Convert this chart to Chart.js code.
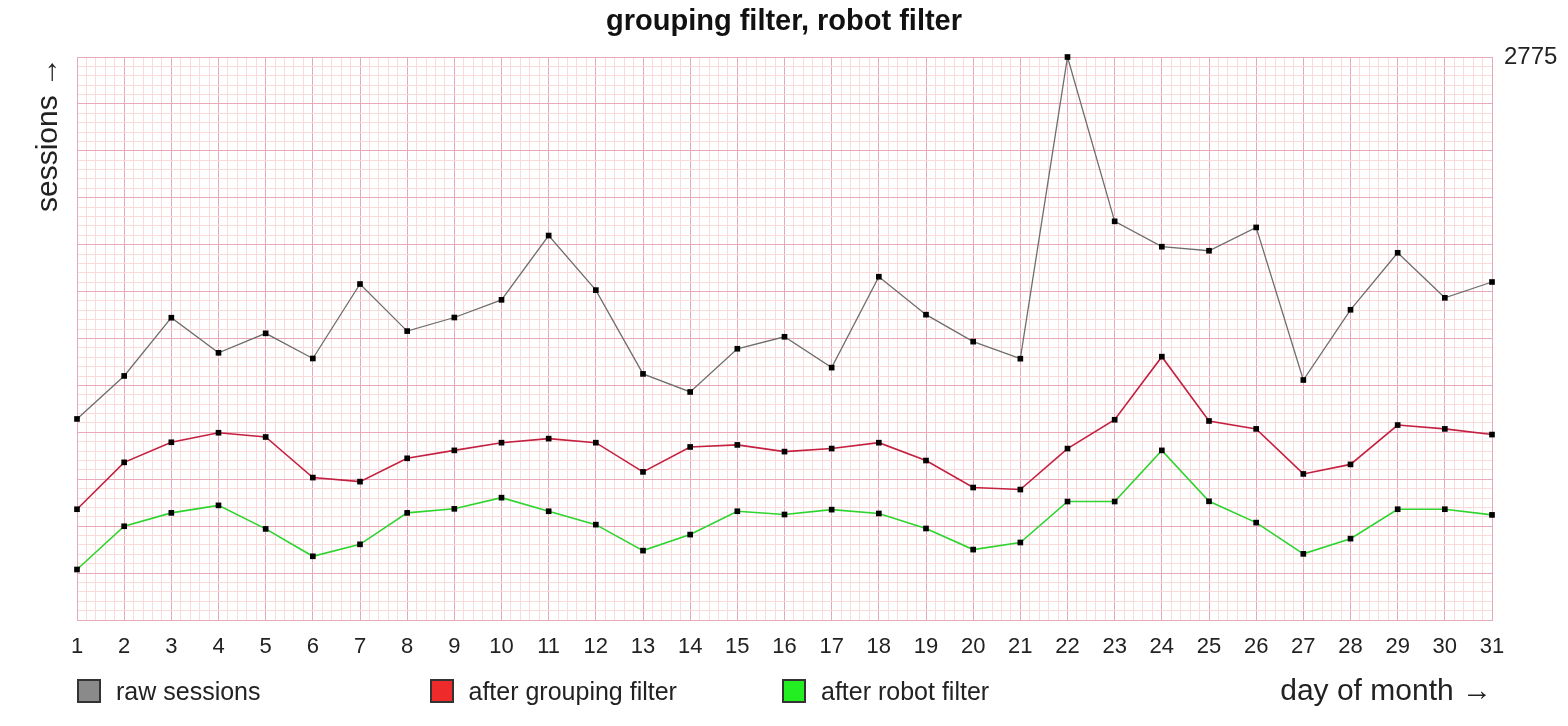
<!DOCTYPE html>
<html>
<head>
<meta charset="utf-8">
<script src="https://cdn.jsdelivr.net/npm/chart.js@4.4.1/dist/chart.umd.min.js"></script>
<style>
  body { margin: 0; background: #fff; font-family: "Liberation Sans", Arial, sans-serif; }
  #wrap { position: relative; width: 1568px; height: 726px; }
  #chartBox { position: absolute; left: 0; top: 0; width: 1568px; height: 726px; }
  #legend { position: absolute; left: 77px; top: 679px; height: 24px; }
  .item { position: absolute; top: 0; height: 24px; display: flex; align-items: center; white-space: nowrap; }
  .box { width: 20px; height: 20px; border: 2px solid #333; }
  .item span { margin-left: 15px; font-size: 25px; color: #222; line-height: 24px; }
</style>
</head>
<body>
<div id="wrap">
  <div id="chartBox"><canvas id="sessionsChart"></canvas></div>
  <div id="legend"></div>
</div>
<script>
  const days = [1, 2, 3, 4, 5, 6, 7, 8, 9, 10, 11, 12, 13, 14, 15, 16,
    17, 18, 19, 20, 21, 22, 23, 24, 25, 26, 27, 28, 29, 30, 31];

  const rawSessions = [991, 1203, 1490, 1317, 1413, 1289, 1656, 1424, 1491, 1578, 1895,
    1626, 1213, 1124, 1337, 1396, 1244, 1692, 1505, 1372, 1288, 2775, 1965, 1840,
    1820, 1935, 1183, 1529, 1810, 1588, 1666];

  const afterGrouping = [546, 777, 876, 923, 902, 702, 682, 797, 836, 874, 894,
    874, 730, 853, 863, 830, 845, 874, 786, 653, 643, 845, 987, 1298,
    981, 942, 720, 767, 961, 942, 914];

  const afterRobot = [249, 462, 528, 565, 449, 314, 373, 528, 548, 603, 536,
    470, 342, 421, 536, 520, 544, 525, 451, 347, 382, 584, 584, 836,
    585, 480, 326, 401, 546, 546, 518];

  const seriesNames = ["raw sessions", "after grouping filter", "after robot filter"];
  const lineColors = ["#6e6e6e", "#c42040", "#2ed42e"];
  const boxColors = ["#8a8a8a", "#ee2a2a", "#22ee22"];
  const yMax = 2775;

  const majorGrid = "#e8aab8";
  const minorGrid = "#fbdada";
  const fontFamily = "'Liberation Sans', Arial, sans-serif";

  const isWhole = (v) => Math.abs(v - Math.round(v)) < 1e-6;

  const makeSet = (label, values, color, width) => ({
    label: label,
    data: values.map((v, i) => ({ x: days[i], y: v })),
    borderColor: color,
    borderWidth: width,
    pointStyle: "rect",
    pointRadius: 4,
    pointBackgroundColor: "#000",
    pointBorderWidth: 0,
    tension: 0,
    fill: false,
    clip: false,
  });

  const ctx = document.getElementById("sessionsChart");

  new Chart(ctx, {
    type: "line",
    data: {
      datasets: [
        makeSet(seriesNames[0], rawSessions, lineColors[0], 1.3),
        makeSet(seriesNames[1], afterGrouping, lineColors[1], 1.6),
        makeSet(seriesNames[2], afterRobot, lineColors[2], 1.6),
      ],
    },
    options: {
      responsive: true,
      maintainAspectRatio: false,
      animation: false,
      layout: { padding: 0 },
      scales: {
        x: {
          type: "linear",
          min: days[0],
          max: days[days.length - 1],
          afterBuildTicks: (scale) => {
            const t = [];
            for (let i = 0; i <= (scale.max - scale.min) * 5; i++) t.push({ value: scale.min + i / 5 });
            scale.ticks = t;
          },
          afterFit: (scale) => { scale.height = 106; },
          grid: {
            color: (c) => (c.tick && isWhole(c.tick.value) ? majorGrid : minorGrid),
            drawTicks: false,
          },
          border: { color: majorGrid },
          ticks: {
            autoSkip: false,
            maxRotation: 0,
            minRotation: 0,
            padding: 14,
            color: "#222",
            font: { family: fontFamily, size: 22 },
            callback: (v) => (isWhole(v) ? String(Math.round(v)) : ""),
          },
          title: {
            display: true,
            text: "day of month \u2192",
            align: "end",
            color: "#222",
            font: { family: fontFamily, size: 30 },
            padding: { top: 0, bottom: 16 },
          },
        },
        y: {
          type: "linear",
          position: "left",
          min: 0,
          max: yMax,
          afterBuildTicks: (scale) => {
            const t = [];
            for (let i = 0; i <= 60; i++) t.push({ value: (yMax * i) / 60 });
            scale.ticks = t;
          },
          afterFit: (scale) => { scale.width = 77; },
          grid: {
            color: (c) => (c.tick && isWhole(c.tick.value / (yMax / 12)) ? majorGrid : minorGrid),
            drawTicks: false,
          },
          border: { color: majorGrid },
          ticks: { display: false },
          title: {
            display: true,
            text: "sessions \u2192",
            align: "end",
            color: "#222",
            font: { family: fontFamily, size: 30 },
            padding: { top: 31, bottom: 0 },
          },
        },
        y2: {
          type: "linear",
          position: "right",
          min: 0,
          max: yMax,
          afterBuildTicks: (scale) => { scale.ticks = [{ value: yMax }]; },
          afterFit: (scale) => { scale.width = 76; },
          grid: { display: false, drawTicks: false },
          border: { display: false },
          ticks: {
            padding: 12,
            color: "#222",
            font: { family: fontFamily, size: 24 },
            callback: (v) => String(v),
          },
        },
      },
      plugins: {
        legend: { display: false },
        tooltip: { enabled: false },
        title: {
          display: true,
          text: "grouping filter, robot filter",
          color: "#111",
          font: { family: fontFamily, size: 29, weight: "bold" },
          padding: { top: 5, bottom: 17.2 },
        },
      },
    },
  });

  // legend in fixed columns like the original
  const legend = document.getElementById("legend");
  seriesNames.forEach((name, i) => {
    legend.innerHTML += `
      <div class="item" style="left:${i * 352.5}px">
        <div class="box" style="background:${boxColors[i]}"></div>
        <span>${name}</span>
      </div>`;
  });
</script>
</body>
</html>
